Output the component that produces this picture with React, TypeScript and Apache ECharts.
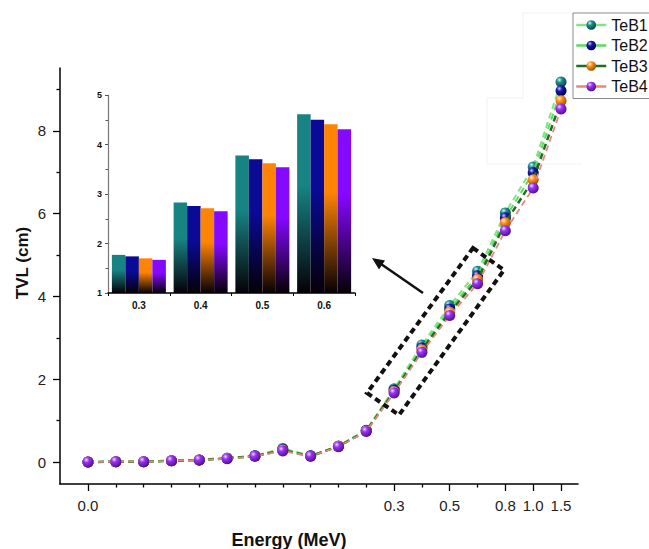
import React, { useEffect, useRef } from 'react';
import * as echarts from 'echarts';

// ---------- data ----------
const seriesNames = ['TeB1', 'TeB2', 'TeB3', 'TeB4'];
// tick labels of the energy axis (18 ticks, one per measured energy)
const xTickLabels = ['0.0', '', '', '', '', '', '', '', '', '', '', '0.3', '', '0.5', '', '0.8', '1.0', '1.5'];
// TVL (cm) at the 18 energy points
const teB1 = [0.0, 0.01, 0.01, 0.03, 0.05, 0.09, 0.15, 0.33, 0.15, 0.39, 0.77, 1.77, 2.83, 3.78, 4.61, 6.02, 7.13, 9.18];
const teB2 = [0.0, 0.01, 0.01, 0.03, 0.05, 0.09, 0.15, 0.31, 0.15, 0.38, 0.76, 1.74, 2.76, 3.70, 4.50, 5.90, 6.99, 8.97];
const teB3 = [0.0, 0.01, 0.01, 0.03, 0.05, 0.09, 0.14, 0.29, 0.14, 0.38, 0.75, 1.70, 2.71, 3.62, 4.41, 5.78, 6.82, 8.73];
const teB4 = [0.0, 0.01, 0.01, 0.03, 0.05, 0.08, 0.14, 0.27, 0.14, 0.37, 0.74, 1.67, 2.65, 3.54, 4.31, 5.59, 6.62, 8.53];
const insetCategories = ['0.3', '0.4', '0.5', '0.6'];
const insetStartIndex = 11;
const yMajorTicks = [0, 2, 4, 6, 8];
const yMinorTicks = [1, 3, 5, 7, 9];

// ---------- styles ----------
const FONT = '"Liberation Sans", Arial, sans-serif';
const sphereColors = [
  ['#d8f4f4', '#1e8e8e', '#0a4848'],
  ['#c8c8ff', '#1a1aa8', '#000050'],
  ['#fff0d8', '#ff9322', '#a85000'],
  ['#f0d8ff', '#9b34f4', '#54109a'],
];
const lineColors = ['#86e086', '#5ed85e', '#1f6e1f', '#e4887a'];
const lineWidths = [2, 2, 2.5, 1.8];
const barColors = ['#178383', '#0a0a96', '#ff8405', '#8508ff'];

const X_MIN = -1.006;
const X_MAX = 17.61;
const Y_MIN = -0.53;
const Y_MAX = 9.52;

function sphere(i: number) {
  const [hi, mid, dark] = sphereColors[i];
  return new echarts.graphic.RadialGradient(0.35, 0.3, 0.7, [
    { offset: 0, color: hi },
    { offset: 0.35, color: mid },
    { offset: 1, color: dark },
  ]);
}

export default function App() {
  const ref = useRef<HTMLDivElement>(null);
  useEffect(() => {
    const chart = echarts.init(ref.current!, null, { renderer: 'svg' });
    const all = [teB1, teB2, teB3, teB4];
    const labeledIdx = xTickLabels.map((l, i) => (l ? i : -1)).filter((v) => v >= 0);
    const unlabeledIdx = xTickLabels.map((l, i) => (l ? -1 : i)).filter((v) => v >= 0);

    const lineSeries = all.map((vals, i) => ({
      name: seriesNames[i],
      type: 'line',
      xAxisIndex: 0,
      yAxisIndex: 0,
      data: vals.map((v, j) => [j, v]),
      symbol: 'circle',
      symbolSize: 11,
      itemStyle: { color: sphere(i), borderWidth: 0 },
      lineStyle: { color: lineColors[i], width: lineWidths[i], type: [6, 4] },
      z: 3 + i,
    }));

    const barSeries = all.map((vals, i) => ({
      name: seriesNames[i] + ' bar',
      type: 'bar',
      xAxisIndex: 3,
      yAxisIndex: 3,
      data: vals.slice(insetStartIndex, insetStartIndex + insetCategories.length),
      barWidth: 13.5,
      barGap: '0%',
      itemStyle: {
        color: new echarts.graphic.LinearGradient(0, 0, 0, 1, [
          { offset: 0, color: barColors[i] },
          { offset: 0.4, color: barColors[i] },
          { offset: 1, color: '#050005' },
        ]),
      },
      z: 2,
    }));

    const tickOnlyX = (vals: number[], len: number) => ({
      type: 'value',
      gridIndex: 0,
      position: 'bottom',
      min: X_MIN,
      max: X_MAX,
      axisLine: { show: false, onZero: false },
      axisTick: { show: true, length: len, customValues: vals, lineStyle: { color: '#000', width: 1.3 } },
      axisLabel: { show: false },
      splitLine: { show: false },
    });
    const tickOnlyY = (vals: number[], len: number) => ({
      type: 'value',
      gridIndex: 0,
      position: 'left',
      min: Y_MIN,
      max: Y_MAX,
      axisLine: { show: false, onZero: false },
      axisTick: { show: true, length: len, customValues: vals, lineStyle: { color: '#000', width: 1.3 } },
      axisLabel: { show: false },
      splitLine: { show: false },
    });

    const box = [[473, 248], [504, 270], [399, 415], [367, 393]];

    const option: any = {
      animation: false,
      backgroundColor: '#fff',
      legend: {
        data: seriesNames,
        orient: 'vertical',
        left: 573,
        top: 13,
        borderColor: '#8a8a8a',
        borderWidth: 1,
        padding: [3, 30, 3, 2],
        itemWidth: 30,
        itemHeight: 12,
        itemGap: 2.5,
        lineStyle: { type: 'solid', width: 2.5 },
        textStyle: { fontFamily: FONT, fontSize: 16, color: '#111', lineHeight: 18 },
      },
      grid: [
        { left: 60, top: 68, width: 518, height: 416 },
        { left: 108, top: 95, width: 247, height: 198 },
      ],
      xAxis: [
        {
          type: 'value',
          gridIndex: 0,
          position: 'bottom',
          min: X_MIN,
          max: X_MAX,
          axisLine: { show: true, onZero: false, lineStyle: { color: '#000', width: 1.5 } },
          axisTick: { show: false },
          axisLabel: {
            customValues: labeledIdx,
            formatter: (v: number) => xTickLabels[Math.round(v)] || '',
            fontFamily: FONT,
            fontSize: 15,
            color: '#222',
            margin: 14,
          },
          splitLine: { show: false },
        },
        tickOnlyX(labeledIdx, 7),
        tickOnlyX(unlabeledIdx, 3.5),
        {
          type: 'category',
          gridIndex: 1,
          data: insetCategories,
          axisLine: { lineStyle: { color: '#000', width: 1.5 } },
          axisTick: { show: true, length: 3, lineStyle: { color: '#000' } },
          axisLabel: { fontFamily: FONT, fontSize: 10, fontWeight: 'bold', color: '#111', margin: 7 },
        },
      ],
      yAxis: [
        {
          type: 'value',
          gridIndex: 0,
          position: 'left',
          min: Y_MIN,
          max: Y_MAX,
          axisLine: { show: true, onZero: false, lineStyle: { color: '#000', width: 1.5 } },
          axisTick: { show: false },
          axisLabel: { customValues: yMajorTicks, fontFamily: FONT, fontSize: 15, color: '#222', margin: 14 },
          splitLine: { show: false },
        },
        tickOnlyY(yMajorTicks, 7),
        tickOnlyY(yMinorTicks, 3.5),
        {
          type: 'value',
          gridIndex: 1,
          min: 1,
          max: 5,
          interval: 1,
          axisLine: { show: true, lineStyle: { color: '#777', width: 1.2 } },
          axisTick: { show: true, length: 3, lineStyle: { color: '#555' } },
          minorTick: { show: true, splitNumber: 2, length: 2.5, lineStyle: { color: '#555' } },
          axisLabel: { fontFamily: FONT, fontSize: 9, fontWeight: 'bold', color: '#111', margin: 6 },
          splitLine: { show: false },
        },
      ],
      graphic: [
        // faint pasted-image frames near the legend
        { type: 'polyline', shape: { points: [[573, 13], [523, 13], [523, 98], [487, 98], [487, 164], [582, 164]] }, style: { stroke: '#f2f2f2', lineWidth: 1, fill: null }, silent: true },
        // dashed zoom box
        { type: 'polygon', shape: { points: box }, style: { fill: null, stroke: '#111', lineWidth: 4, lineDash: [6, 4] }, z: 10 },
        // arrow
        { type: 'line', shape: { x1: 423, y1: 293, x2: 381, y2: 264 }, style: { stroke: '#111', lineWidth: 2.5 }, z: 10 },
        { type: 'polygon', shape: { points: [[372, 258], [385, 260.5], [379, 269.5]] }, style: { fill: '#111' }, z: 10 },
        // axis names
        { type: 'text', x: 22, y: 263, rotation: Math.PI / 2, style: { text: 'TVL (cm)', fontFamily: FONT, fontSize: 17, fontWeight: 'bold', fill: '#111', align: 'center', verticalAlign: 'middle' } },
        { type: 'text', x: 289, y: 540, style: { text: 'Energy (MeV)', fontFamily: FONT, fontSize: 18, fontWeight: 'bold', fill: '#111', align: 'center', verticalAlign: 'middle' } },
      ],
      series: [...barSeries, ...lineSeries],
    };
    chart.setOption(option);
    return () => chart.dispose();
  }, []);
  return <div ref={ref} style={{ position: 'fixed', left: 0, top: 0, width: 649, height: 549, background: '#fff' }} />;
}
